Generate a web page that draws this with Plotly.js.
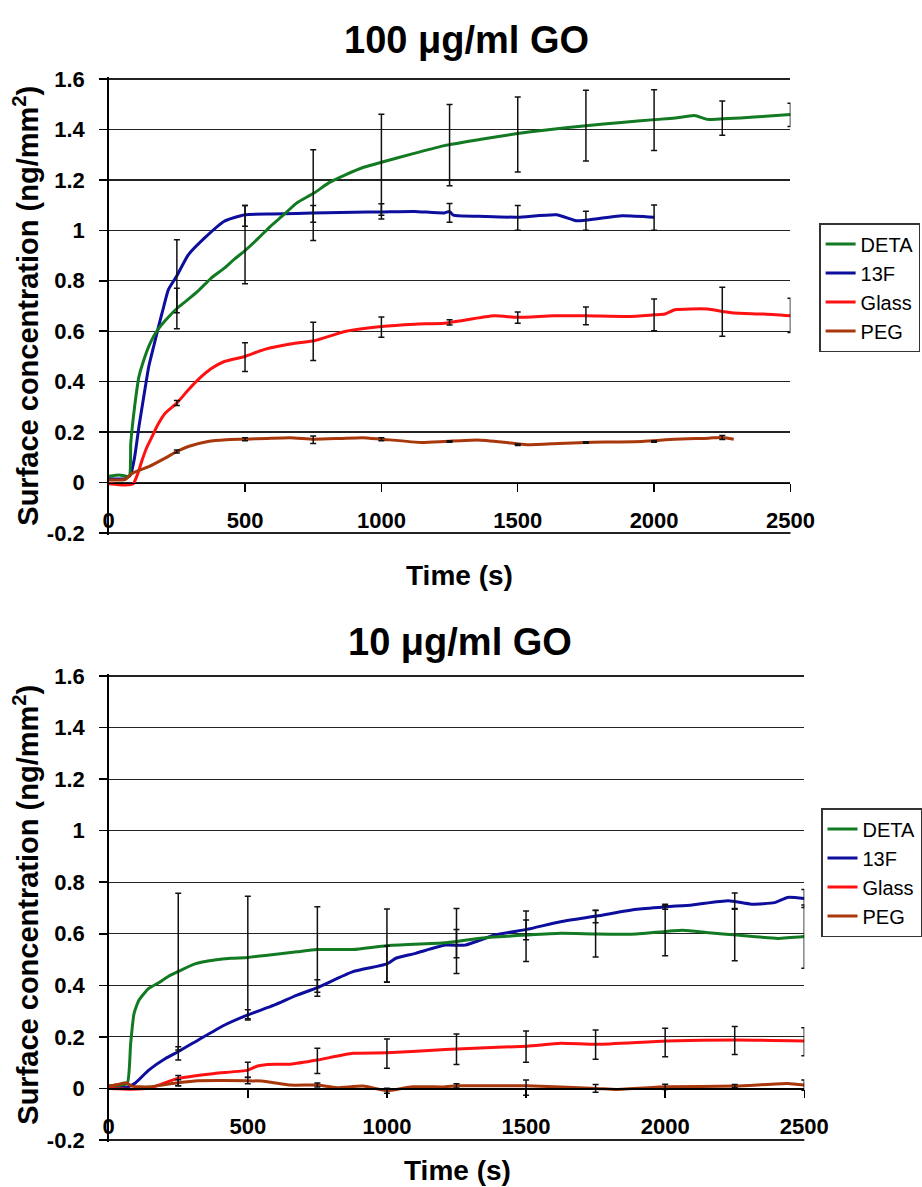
<!DOCTYPE html>
<html>
<head>
<meta charset="utf-8">
<script src="https://cdn.plot.ly/plotly-3.0.1.min.js"></script>
<style>html,body{margin:0;padding:0;background:#fff;}#chart{width:922px;height:1187px;}</style>
</head>
<body>
<div id="chart"></div>
<script>
// ---------- DATA: 100 µg/ml GO ----------
const deta100_t = [0, 40, 75, 81, 95, 111, 130, 147, 165, 183, 210, 250, 290, 328, 375, 424, 460, 500, 550, 593, 640, 689, 753, 810, 870, 935, 1000, 1120, 1231, 1360, 1499, 1620, 1750, 1880, 2001, 2076, 2148, 2196, 2251, 2380, 2500];
const deta100_y = [0.025, 0.03, 0.025, 0.156, 0.3, 0.42, 0.49, 0.54, 0.58, 0.61, 0.645, 0.69, 0.725, 0.76, 0.81, 0.85, 0.885, 0.92, 0.97, 1.016, 1.06, 1.108, 1.148, 1.19, 1.221, 1.25, 1.27, 1.305, 1.336, 1.36, 1.384, 1.40, 1.415, 1.428, 1.439, 1.445, 1.455, 1.44, 1.442, 1.45, 1.459];

const f13_100_t = [0, 60, 80, 95, 111, 130, 147, 165, 183, 200, 219, 250, 292, 352, 424, 500, 600, 689, 800, 900, 1000, 1120, 1231, 1250, 1264, 1380, 1500, 1642, 1714, 1750, 1883, 2001];
const f13_100_y = [0.015, 0.015, 0.03, 0.10, 0.222, 0.35, 0.46, 0.54, 0.619, 0.69, 0.765, 0.82, 0.903, 0.97, 1.036, 1.062, 1.065, 1.067, 1.07, 1.072, 1.073, 1.075, 1.069, 1.075, 1.06, 1.055, 1.052, 1.062, 1.038, 1.04, 1.058, 1.052];

const glass100_t = [0, 60, 90, 105, 123, 140, 159, 180, 207, 250, 290, 328, 375, 424, 500, 569, 689, 753, 870, 1000, 1123, 1231, 1413, 1500, 1630, 1750, 1907, 2001, 2040, 2076, 2196, 2251, 2292, 2400, 2500];
const glass100_y = [-0.005, -0.01, -0.005, 0.03, 0.09, 0.14, 0.182, 0.229, 0.275, 0.315, 0.365, 0.408, 0.451, 0.48, 0.5, 0.527, 0.553, 0.562, 0.6, 0.619, 0.628, 0.632, 0.661, 0.655, 0.661, 0.661, 0.658, 0.665, 0.668, 0.685, 0.688, 0.678, 0.672, 0.668, 0.661];

const peg100_t = [0, 60, 87, 147, 207, 250, 292, 364, 430, 500, 580, 665, 753, 850, 930, 1000, 1147, 1231, 1352, 1450, 1533, 1650, 1750, 1955, 2076, 2200, 2251, 2292];
const peg100_y = [0.01, 0.012, 0.037, 0.063, 0.097, 0.123, 0.143, 0.163, 0.17, 0.172, 0.175, 0.178, 0.172, 0.175, 0.178, 0.172, 0.159, 0.163, 0.169, 0.16, 0.15, 0.155, 0.159, 0.163, 0.172, 0.176, 0.179, 0.172];

// error bars (mean, sd) at sampled times
const eb100_t = [250, 500, 750, 1000, 1250, 1500, 1750, 2000, 2250, 2500];
const deta100_mean = [0.69, 0.943, 1.14, 1.26, 1.338, 1.38, 1.415, 1.437, 1.445, 1.458];
const deta100_sd   = [0.08, 0.155, 0.18, 0.2, 0.161, 0.149, 0.14, 0.12, 0.068, 0.046];
const f13_100_eb_t = [250, 500, 750, 1000, 1250, 1500, 1750, 2000];
const f13_100_mean = [0.818, 1.057, 1.065, 1.075, 1.069, 1.049, 1.038, 1.05];
const f13_100_sd   = [0.145, 0.041, 0.033, 0.03, 0.037, 0.049, 0.038, 0.05];
const glass100_mean = [0.315, 0.497, 0.56, 0.616, 0.635, 0.654, 0.661, 0.665, 0.677, 0.663];
const glass100_sd   = [0.01, 0.057, 0.076, 0.04, 0.01, 0.022, 0.035, 0.063, 0.097, 0.068];
const peg100_eb_t = [250, 500, 750, 1000, 1250, 1500, 1750, 2000, 2250];
const peg100_mean = [0.123, 0.172, 0.17, 0.172, 0.163, 0.15, 0.159, 0.163, 0.179];
const peg100_sd   = [0.006, 0.006, 0.015, 0.006, 0.003, 0.003, 0.003, 0.003, 0.008];

// ---------- DATA: 10 µg/ml GO ----------
const deta10_t = [0, 40, 67, 79, 91, 109, 144, 180, 215, 249, 310, 381, 440, 500, 571, 677, 748, 878, 1000, 1210, 1328, 1503, 1624, 1754, 1896, 2062, 2157, 2257, 2405, 2500];
const deta10_y = [0.01, 0.012, 0.02, 0.175, 0.29, 0.343, 0.388, 0.41, 0.435, 0.453, 0.483, 0.498, 0.505, 0.508, 0.517, 0.53, 0.539, 0.539, 0.554, 0.565, 0.582, 0.595, 0.602, 0.599, 0.599, 0.614, 0.604, 0.595, 0.582, 0.589];

const f13_10_t = [0, 67, 97, 144, 204, 249, 322, 417, 500, 594, 677, 750, 878, 1000, 1032, 1103, 1210, 1281, 1387, 1503, 1624, 1754, 1896, 2005, 2097, 2227, 2310, 2393, 2440, 2500];
const f13_10_y = [0.005, 0.005, 0.022, 0.071, 0.116, 0.142, 0.188, 0.246, 0.285, 0.323, 0.362, 0.391, 0.453, 0.483, 0.505, 0.524, 0.556, 0.556, 0.595, 0.617, 0.647, 0.669, 0.695, 0.705, 0.712, 0.728, 0.715, 0.721, 0.741, 0.737];

const glass10_t = [0, 80, 144, 249, 381, 500, 535, 571, 653, 750, 878, 1000, 1210, 1503, 1624, 1754, 2005, 2255, 2500];
const glass10_y = [0, -0.003, 0, 0.039, 0.058, 0.071, 0.087, 0.093, 0.094, 0.11, 0.136, 0.138, 0.151, 0.164, 0.175, 0.171, 0.184, 0.188, 0.184];

const peg10_t = [0, 38, 62, 85, 144, 249, 322, 500, 571, 653, 750, 819, 914, 1000, 1091, 1210, 1257, 1503, 1754, 1825, 2005, 2255, 2440, 2500];
const peg10_y = [0.009, 0.016, 0.022, 0.009, 0.006, 0.022, 0.03, 0.03, 0.026, 0.013, 0.013, 0.003, 0.009, -0.009, 0.006, 0.006, 0.01, 0.01, 0, -0.004, 0.006, 0.009, 0.019, 0.013];

const eb10_t = [250, 500, 750, 1000, 1250, 1500, 1750, 2000, 2250, 2500];
const deta10_mean = [0.453, 0.508, 0.539, 0.554, 0.572, 0.59, 0.6, 0.612, 0.595, 0.589];
const deta10_sd   = [0.304, 0.238, 0.166, 0.142, 0.126, 0.098, 0.09, 0.097, 0.1, 0.123];
const f13_10_mean = [0.136, 0.285, 0.39, 0.483, 0.562, 0.615, 0.667, 0.705, 0.728, 0.737];
const f13_10_sd   = [0.026, 0.02, 0.032, 0.07, 0.055, 0.038, 0.024, 0.01, 0.03, 0.035];
const glass10_mean = [0.03, 0.072, 0.107, 0.135, 0.152, 0.162, 0.17, 0.178, 0.186, 0.181];
const glass10_sd   = [0.02, 0.029, 0.049, 0.057, 0.059, 0.061, 0.057, 0.055, 0.054, 0.054];
const peg10_mean = [0.022, 0.03, 0.013, -0.009, 0.01, 0.003, 0, 0.006, 0.009, 0.013];
const peg10_sd   = [0.012, 0.012, 0.008, 0.01, 0.008, 0.03, 0.015, 0.01, 0.006, 0.02];

// ---------- labels ----------
const seriesNames = ["DETA", "13F", "Glass", "PEG"];
const yTickVals = [-0.2, 0, 0.2, 0.4, 0.6, 0.8, 1, 1.2, 1.4, 1.6];
const yTickText = ["-0.2", "0", "0.2", "0.4", "0.6", "0.8", "1", "1.2", "1.4", "1.6"];
const xTickVals = [0, 500, 1000, 1500, 2000, 2500];
const xTickText = ["0", "500", "1000", "1500", "2000", "2500"];
const titles = ["100 \u03bcg/ml GO", "10 \u03bcg/ml GO"];
const xTitle = "Time (s)";
const yTitle = "Surface concentration (ng/mm<sup>2</sup>)";

// ---------- styling ----------
const colors = ["#127a22", "#0d0d9e", "#ff1111", "#a8380c"];
const FONT = "Liberation Sans, Arial, Helvetica, sans-serif";
const W = 922, H = 1187;
const px = v => v / W;
const py = v => 1 - v / H;

function lineTrace(x, y, i, xa, ya, leg) {
  return {type: "scatter", mode: "lines", x: x, y: y, name: seriesNames[i],
    xaxis: xa, yaxis: ya, legend: leg, showlegend: true, legendrank: i + 1,
    line: {color: colors[i], width: 3, shape: "spline", smoothing: 0.5}, hoverinfo: "skip"};
}
function ebTrace(x, m, s, xa, ya) {
  return {type: "scatter", mode: "markers", x: x, y: m, xaxis: xa, yaxis: ya, cliponaxis: false,
    showlegend: false, marker: {size: 2, color: "rgba(0,0,0,0)"}, hoverinfo: "skip",
    error_y: {type: "data", array: s, visible: true, color: "#111", thickness: 1.5, width: 3}};
}
// gridline at the lowest y tick, drawn as a trace because Plotly drops the edge gridline
function baseGrid(xa, ya) {
  return {type: "scatter", mode: "lines", xaxis: xa, yaxis: ya, showlegend: false, hoverinfo: "skip",
    x: [xTickVals[0], xTickVals[xTickVals.length - 1]], y: [yTickVals[0], yTickVals[0]],
    line: {color: "#222", width: 1.5}};
}

const traces = [
  baseGrid("x", "y"),
  lineTrace(f13_100_t, f13_100_y, 1, "x", "y", "legend"),
  lineTrace(deta100_t, deta100_y, 0, "x", "y", "legend"),
  lineTrace(glass100_t, glass100_y, 2, "x", "y", "legend"),
  lineTrace(peg100_t, peg100_y, 3, "x", "y", "legend"),
  ebTrace(eb100_t, deta100_mean, deta100_sd, "x", "y"),
  ebTrace(f13_100_eb_t, f13_100_mean, f13_100_sd, "x", "y"),
  ebTrace(eb100_t, glass100_mean, glass100_sd, "x", "y"),
  ebTrace(peg100_eb_t, peg100_mean, peg100_sd, "x", "y"),
  baseGrid("x2", "y2"),
  lineTrace(f13_10_t, f13_10_y, 1, "x2", "y2", "legend2"),
  lineTrace(deta10_t, deta10_y, 0, "x2", "y2", "legend2"),
  lineTrace(glass10_t, glass10_y, 2, "x2", "y2", "legend2"),
  lineTrace(peg10_t, peg10_y, 3, "x2", "y2", "legend2"),
  ebTrace(eb10_t, deta10_mean, deta10_sd, "x2", "y2"),
  ebTrace(eb10_t, f13_10_mean, f13_10_sd, "x2", "y2"),
  ebTrace(eb10_t, glass10_mean, glass10_sd, "x2", "y2"),
  ebTrace(eb10_t, peg10_mean, peg10_sd, "x2", "y2")
];

const tickFont = {family: FONT, size: 22, color: "#000", weight: "bold"};
const Y0 = -0.2, Y1 = 1.6, PAD = 0.008;
function xAxis(domain, pos) {
  return {domain: domain, range: [0, 2500], anchor: "free", position: pos,
    showgrid: false, zeroline: false, showline: true, linecolor: "#000", linewidth: 1.5,
    ticks: "outside", ticklen: 8, tickwidth: 1.5, tickcolor: "#000",
    tickvals: xTickVals, ticktext: xTickText, tickfont: tickFont, ticklabelstandoff: 10, fixedrange: true};
}
function yAxis(domain, xref) {
  return {domain: domain, range: [Y0 - PAD, Y1 + PAD], anchor: xref,
    showgrid: true, gridcolor: "#222", gridwidth: 1.3, zeroline: false,
    showline: true, linecolor: "#000", linewidth: 1.5,
    ticks: "outside", ticklen: 8, tickwidth: 1.5, tickcolor: "#000",
    tickvals: yTickVals, ticktext: yTickText, tickfont: tickFont, ticklabelstandoff: 10, fixedrange: true};
}

const top0 = 77, bot0 = 535, top1 = 674, bot1 = 1142;
const dom1 = [py(bot0), py(top0)];
const dom2 = [py(bot1), py(top1)];
const xdom1 = [px(110), px(800)], xdom2 = [px(110), px(814)];
// paper position of a y value inside a subplot
const yPos = (d, v) => d[0] + (v - (Y0 - PAD)) / (Y1 - Y0 + 2 * PAD) * (d[1] - d[0]);

// extra paper-referenced line at the lowest y tick
const edgeLine = (xd, yd) => ({type: "line", xref: "paper", yref: "paper", x0: xd[0], x1: xd[1],
  y0: yPos(yd, yTickVals[0]), y1: yPos(yd, yTickVals[0]), line: {color: "#222", width: 2}, layer: "above"});

const legendBase = {bgcolor: "#fff", bordercolor: "#333", borderwidth: 1.5,
  font: {family: FONT, size: 20, color: "#000"}, itemwidth: 30, xanchor: "left", yanchor: "top",
  traceorder: "normal", tracegroupgap: 0};

const layout = {
  width: W, height: H, margin: {l: 0, r: 0, t: 0, b: 0},
  paper_bgcolor: "#fff", plot_bgcolor: "#fff", showlegend: true,
  font: {family: FONT, color: "#000"},
  xaxis: xAxis(xdom1, yPos(dom1, 0)),
  yaxis: yAxis(dom1, "x"),
  xaxis2: xAxis(xdom2, yPos(dom2, 0)),
  yaxis2: yAxis(dom2, "x2"),
  legend: Object.assign({}, legendBase, {x: px(829), y: py(223)}),
  legend2: Object.assign({}, legendBase, {x: px(831), y: py(808)}),
  shapes: [edgeLine(xdom1, dom1), edgeLine(xdom2, dom2)],
  annotations: [
    {text: titles[0], xref: "paper", yref: "paper", x: px(472), y: py(40), xanchor: "center", yanchor: "middle", showarrow: false,
     font: {family: FONT, size: 38, weight: "bold", color: "#000"}},
    {text: titles[1], xref: "paper", yref: "paper", x: px(466), y: py(642), xanchor: "center", yanchor: "middle", showarrow: false,
     font: {family: FONT, size: 38, weight: "bold", color: "#000"}},
    {text: xTitle, xref: "paper", yref: "paper", x: px(465), y: py(576), xanchor: "center", yanchor: "middle", showarrow: false,
     font: {family: FONT, size: 28, weight: "bold", color: "#000"}},
    {text: xTitle, xref: "paper", yref: "paper", x: px(463), y: py(1170), xanchor: "center", yanchor: "middle", showarrow: false,
     font: {family: FONT, size: 28, weight: "bold", color: "#000"}},
    {text: yTitle, xref: "paper", yref: "paper", x: px(26), y: py(306), xanchor: "center", yanchor: "middle", textangle: -90, showarrow: false,
     font: {family: FONT, size: 29, weight: "bold", color: "#000"}},
    {text: yTitle, xref: "paper", yref: "paper", x: px(26), y: py(905), xanchor: "center", yanchor: "middle", textangle: -90, showarrow: false,
     font: {family: FONT, size: 29, weight: "bold", color: "#000"}}
  ]
};

Plotly.newPlot("chart", traces, layout, {staticPlot: true, displayModeBar: false});
</script>
</body>
</html>
